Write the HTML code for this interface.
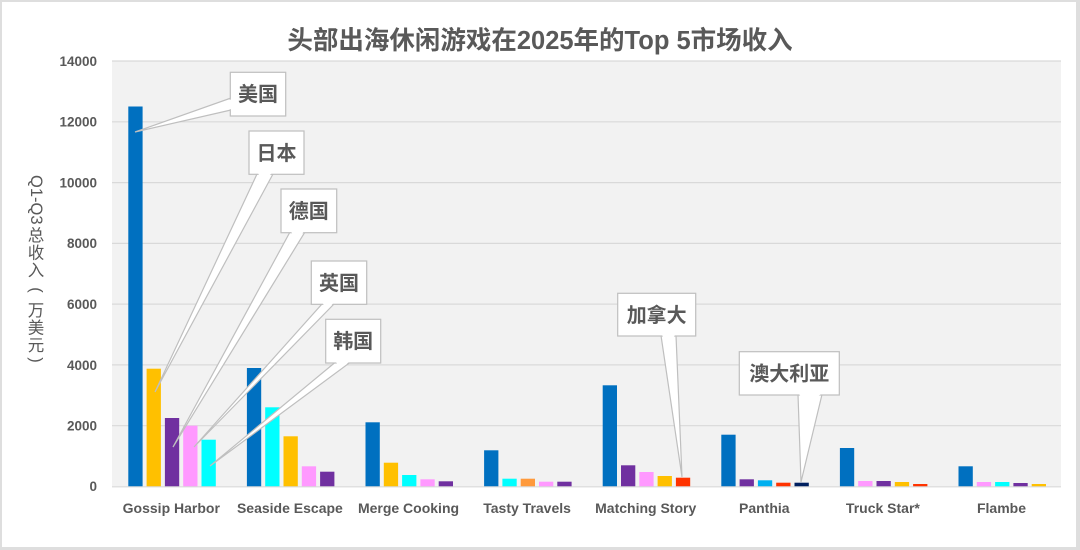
<!DOCTYPE html>
<html><head><meta charset="utf-8">
<style>
html,body{margin:0;padding:0;background:#dedede;}
.wrap{position:relative;width:1080px;height:550px;overflow:hidden;}
svg{position:absolute;left:0;top:0;}
</style></head>
<body><div class="wrap">
<svg width="1080" height="550" viewBox="0 0 1080 550" xmlns="http://www.w3.org/2000/svg" font-family="'Liberation Sans','Noto Sans CJK SC',sans-serif">
<rect x="2" y="2" width="1074" height="545" fill="#ffffff"/>
<text x="540" y="49" text-anchor="middle" font-size="25.5" font-weight="bold" fill="#595959">头部出海休闲游戏在2025年的Top 5市场收入</text>
<rect x="112" y="61" width="949" height="425.5" fill="#f2f2f2"/>
<g stroke="#d9d9d9" stroke-width="1.2">
<line x1="112" x2="1061" y1="61" y2="61"/>
<line x1="112" x2="1061" y1="121.8" y2="121.8"/>
<line x1="112" x2="1061" y1="182.6" y2="182.6"/>
<line x1="112" x2="1061" y1="243.4" y2="243.4"/>
<line x1="112" x2="1061" y1="304.1" y2="304.1"/>
<line x1="112" x2="1061" y1="364.9" y2="364.9"/>
<line x1="112" x2="1061" y1="425.7" y2="425.7"/>
</g>
<g font-size="13.5" font-weight="bold" fill="#595959" text-anchor="end">
<text x="97" y="66">14000</text>
<text x="97" y="126.5">12000</text>
<text x="97" y="187.5">10000</text>
<text x="97" y="248">8000</text>
<text x="97" y="309">6000</text>
<text x="97" y="370">4000</text>
<text x="97" y="430.5">2000</text>
<text x="97" y="491">0</text>
</g>
<!-- y axis title (vertical) -->
<g fill="#595959" font-size="16.5">
<text transform="translate(31,175) rotate(90)">Q1-Q3</text>
<g text-anchor="middle">
<text x="36" y="241">总</text>
<text x="36" y="258.5">收</text>
<text x="36" y="276">入</text>
<text x="36" y="316">万</text>
<text x="36" y="333.5">美</text>
<text x="36" y="351">元</text>
</g>
<text transform="translate(36,290) rotate(90)" text-anchor="middle" dominant-baseline="central">(</text>
<text transform="translate(36,360) rotate(90)" text-anchor="middle" dominant-baseline="central">)</text>
</g>
<!-- bars -->
<g>
<rect x="128.3" y="106.5" width="14.3" height="380" fill="#0070C0"/>
<rect x="146.6" y="368.7" width="14.3" height="117.8" fill="#FFC000"/>
<rect x="164.9" y="418" width="14.3" height="68.5" fill="#7030A0"/>
<rect x="183.2" y="425.7" width="14.3" height="60.8" fill="#FF99FF"/>
<rect x="201.5" y="439.7" width="14.3" height="46.8" fill="#00FFFF"/>
<rect x="246.9" y="368" width="14.3" height="118.5" fill="#0070C0"/>
<rect x="265.2" y="407.3" width="14.3" height="79.2" fill="#00FFFF"/>
<rect x="283.5" y="436.3" width="14.3" height="50.2" fill="#FFC000"/>
<rect x="301.8" y="466.3" width="14.3" height="20.2" fill="#FF99FF"/>
<rect x="320.1" y="471.7" width="14.3" height="14.8" fill="#7030A0"/>
<rect x="365.5" y="422.3" width="14.3" height="64.2" fill="#0070C0"/>
<rect x="383.8" y="462.7" width="14.3" height="23.8" fill="#FFC000"/>
<rect x="402.1" y="475" width="14.3" height="11.5" fill="#00FFFF"/>
<rect x="420.4" y="479.3" width="14.3" height="7.2" fill="#FF99FF"/>
<rect x="438.7" y="481.3" width="14.3" height="5.2" fill="#7030A0"/>
<rect x="484.1" y="450.3" width="14.3" height="36.2" fill="#0070C0"/>
<rect x="502.4" y="478.7" width="14.3" height="7.8" fill="#00FFFF"/>
<rect x="520.7" y="478.7" width="14.3" height="7.8" fill="#FF9A3C"/>
<rect x="539" y="481.7" width="14.3" height="4.8" fill="#FF99FF"/>
<rect x="557.3" y="481.7" width="14.3" height="4.8" fill="#7030A0"/>
<rect x="602.7" y="385.3" width="14.3" height="101.2" fill="#0070C0"/>
<rect x="621" y="465.3" width="14.3" height="21.2" fill="#7030A0"/>
<rect x="639.3" y="472" width="14.3" height="14.5" fill="#FF99FF"/>
<rect x="657.6" y="476" width="14.3" height="10.5" fill="#FFC000"/>
<rect x="675.9" y="477.7" width="14.3" height="8.8" fill="#FF3300"/>
<rect x="721.3" y="434.7" width="14.3" height="51.8" fill="#0070C0"/>
<rect x="739.6" y="479.3" width="14.3" height="7.2" fill="#7030A0"/>
<rect x="757.9" y="480.3" width="14.3" height="6.2" fill="#00B0F0"/>
<rect x="776.2" y="482.7" width="14.3" height="3.8" fill="#FF3300"/>
<rect x="794.5" y="482.7" width="14.3" height="3.8" fill="#002060"/>
<rect x="839.9" y="448" width="14.3" height="38.5" fill="#0070C0"/>
<rect x="858.2" y="481" width="14.3" height="5.5" fill="#FF99FF"/>
<rect x="876.5" y="481" width="14.3" height="5.5" fill="#7030A0"/>
<rect x="894.8" y="482" width="14.3" height="4.5" fill="#FFC000"/>
<rect x="913.1" y="484" width="14.3" height="2.5" fill="#FF3300"/>
<rect x="958.5" y="466.3" width="14.3" height="20.2" fill="#0070C0"/>
<rect x="976.8" y="482" width="14.3" height="4.5" fill="#FF99FF"/>
<rect x="995.1" y="482" width="14.3" height="4.5" fill="#00FFFF"/>
<rect x="1013.4" y="483" width="14.3" height="3.5" fill="#7030A0"/>
<rect x="1031.7" y="484" width="14.3" height="2.5" fill="#FFC000"/>
</g>
<line x1="112" x2="1061" y1="486.8" y2="486.8" stroke="#d9d9d9" stroke-width="1.2"/>
<g font-size="14" font-weight="bold" fill="#595959" text-anchor="middle">
<text x="171.3" y="513">Gossip Harbor</text>
<text x="289.9" y="513">Seaside Escape</text>
<text x="408.5" y="513">Merge Cooking</text>
<text x="527.1" y="513">Tasty Travels</text>
<text x="645.7" y="513">Matching Story</text>
<text x="764.3" y="513">Panthia</text>
<text x="882.9" y="513">Truck Star*</text>
<text x="1001.5" y="513">Flambe</text>
</g>
<!-- callouts -->
<g stroke="#bfbfbf" stroke-width="1.2" fill="#ffffff">
<polygon points="231,98 231,110 135,132"/>
<polygon points="257,174 273,174 155,392"/>
<polygon points="290,232 305,232 173,447"/>
<polygon points="322,304 334,304 194,447"/>
<polygon points="335,362.5 350,362.5 210,466"/>
<polygon points="661,335.5 676,335.5 682,477"/>
<polygon points="798,394.5 822,394.5 801,482"/>
<rect x="230.3" y="72.3" width="55.4" height="43.7"/>
<rect x="249" y="131" width="55" height="43.3"/>
<rect x="281" y="189" width="55.7" height="43.7"/>
<rect x="311.3" y="261" width="55.4" height="43.3"/>
<rect x="325.7" y="319.3" width="55" height="43.7"/>
<rect x="617.7" y="293.3" width="78" height="42.7"/>
<rect x="739.3" y="351.7" width="100" height="43.3"/>
</g>
<g fill="#ffffff">
<polygon points="232,99 232,109 200,113"/>
<polygon points="258,173 272,173 262,182"/>
<polygon points="291,231.5 304,231.5 296,240"/>
<polygon points="323,303.5 333,303.5 326,311"/>
<polygon points="336,362 349,362 340,369"/>
<polygon points="662,335 675,335 668,345"/>
<polygon points="799,394 821,394 807,405"/>
</g>
<g font-size="20" font-weight="bold" fill="#595959" text-anchor="middle">
<text x="258" y="101">美国</text>
<text x="276.5" y="160">日本</text>
<text x="308.8" y="218">德国</text>
<text x="339" y="290">英国</text>
<text x="353.2" y="348">韩国</text>
<text x="656.7" y="322">加拿大</text>
<text x="789.3" y="380.5">澳大利亚</text>
</g>
</svg>
</div></body></html>
